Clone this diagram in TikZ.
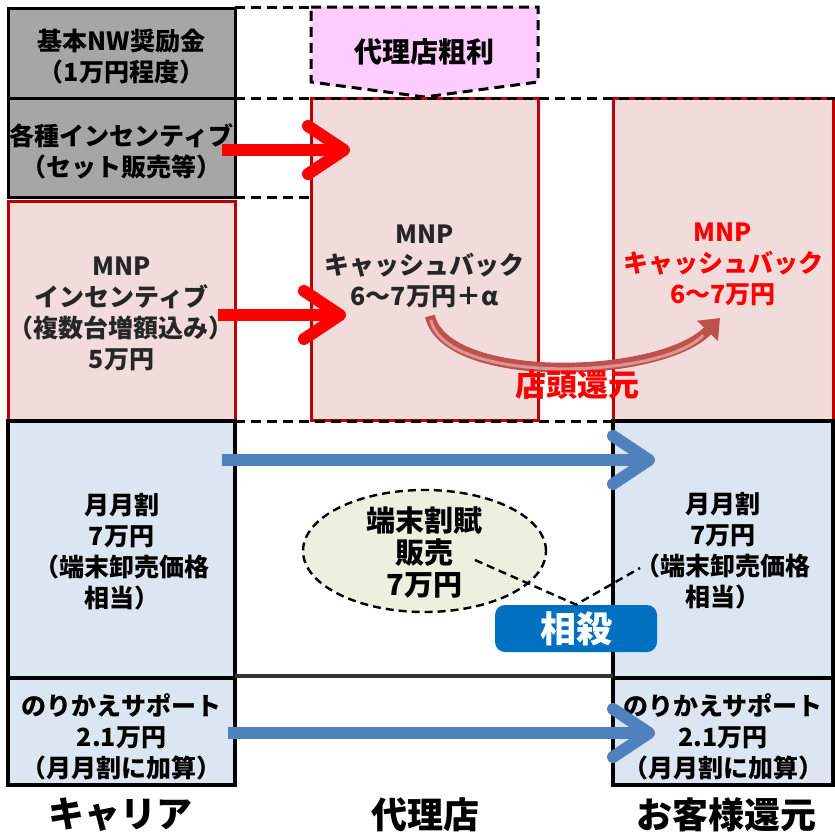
\documentclass[tikz,border=0pt]{standalone}
\usepackage{fontspec}
\setmainfont{Noto Sans CJK JP}
\usetikzlibrary{arrows.meta,shapes.geometric}
\definecolor{grayfill}{HTML}{A6A6A6}
\definecolor{pinkfill}{HTML}{F2DCDB}
\definecolor{boxred}{HTML}{C00000}
\definecolor{bluefill}{HTML}{DCE6F2}
\definecolor{pentfill}{HTML}{FFCCFF}
\definecolor{ellfill}{HTML}{EBF1DE}
\definecolor{arrblue}{HTML}{4F81BD}
\definecolor{arrred}{HTML}{FF0000}
\definecolor{curvred}{HTML}{C0504D}
\definecolor{curvlight}{HTML}{D99694}
\definecolor{sousai}{HTML}{0070C0}
\definecolor{textgray}{HTML}{262626}
\definecolor{darkline}{HTML}{333333}
\begin{document}
\begin{tikzpicture}[x=0.5pt,y=-0.5pt,
  basebox/.style={inner sep=0pt, line width=1.5pt},
  graybox/.style={basebox, draw=black, fill=grayfill},
  pinkbox/.style={basebox, draw=boxred, fill=pinkfill},
  bluebox/.style={basebox, draw=black, fill=bluefill, line width=1.8pt},
  txt/.style={align=center, inner sep=0pt, font=\bfseries\fontsize{12.5}{15.5}\selectfont},
  bigtxt/.style={align=center, inner sep=0pt, font=\bfseries\fontsize{18}{20}\selectfont},
  dline/.style={line width=1.5pt, dash pattern=on 5pt off 3pt},
  chevron/.style={line width=6pt, -{Straight Barb[length=18pt,width=24pt,round]}}
]
\useasboundingbox (0,0) rectangle (835,835);

% left column (carrier)
\node[graybox, minimum width=113.5pt, minimum height=45pt] (g1) at (121.5,53) {};
\node[graybox, minimum width=113.5pt, minimum height=49.5pt] (g2) at (121.5,147.5) {};
\node[pinkbox, minimum width=113.5pt, minimum height=109.5pt] (m1) at (121.5,310.5) {};
\node[bluebox, minimum width=113.5pt, minimum height=128.5pt] (b1) at (121.5,549.5) {};
\node[bluebox, minimum width=113.5pt, minimum height=53.5pt] (n1) at (121.5,731.5) {};

% middle column (agency)
\draw[dline, fill=pentfill] (311,7) -- (538,7) -- (538,82) -- (424.5,97) -- (311,82) -- cycle;
\node[pinkbox, minimum width=113.5pt, minimum height=161pt] (m2) at (424.5,259) {};

% right column (customer)
\node[pinkbox, minimum width=110pt, minimum height=161pt] (m3) at (723,259) {};
\node[bluebox, minimum width=110pt, minimum height=128.5pt] (b2) at (723,549.5) {};
\node[bluebox, minimum width=110pt, minimum height=53.5pt] (n2) at (723,731.5) {};

% dashed guide lines
\draw[dline] (235,7) -- (311,7);
\draw[dline] (235,98) -- (835,98);
\draw[dline] (235,197) -- (311,197);
\draw[dline] (235,421) -- (835,421);
\draw[line width=2pt, darkline] (235,676) -- (613,676);

% texts
\node[txt] (g1t) at (121.5,57) {基本NW奨励金\\（1万円程度）};
\node[txt] (g2t) at (121.5,151.5) {各種インセンティブ\\（セット販売等）};
\node[txt, text=textgray] (m1t) at (121.5,314) {MNP\\インセンティブ\\（複数台増額込み）\\5万円};
\node[txt] (b1t) at (121.5,551.5) {月月割\\7万円\\（端末卸売価格\\相当）};
\node[txt] (n1t) at (121.5,736.5) {のりかえサポート\\2.1万円\\（月月割に加算）};
\node[txt, font=\bfseries\fontsize{14}{16}\selectfont] (pt) at (424.5,52) {代理店粗利};
\node[txt, text=textgray] (m2t) at (424.5,266) {MNP\\キャッシュバック\\6〜7万円＋α};
\node[txt, text=arrred] (m3t) at (723,264.5) {MNP\\キャッシュバック\\6〜7万円};
\node[txt] (b2t) at (723,551) {月月割\\7万円\\（端末卸売価格\\相当）};
\node[txt] (n2t) at (723,736.5) {のりかえサポート\\2.1万円\\（月月割に加算）};

% ellipse
\node[ellipse, draw=black, dash pattern=on 4pt off 2.5pt, line width=1.2pt, fill=ellfill,
      minimum width=121.5pt, minimum height=61pt, inner sep=0pt] (el) at (424.5,551) {};
\node[txt, font=\bfseries\fontsize{14.5}{16}\selectfont] (elt) at (424.5,552.5) {端末割賦\\販売\\7万円};

% sousai
\node[rounded corners=5pt, fill=sousai, text=white, minimum width=81pt, minimum height=23.5pt,
      inner sep=0pt, font=\bfseries\fontsize{18}{20}\selectfont] (ss) at (576,628.5) {相殺};
\coordinate (d1) at (475,560);
\coordinate (d3) at (640,568);
\draw[line width=1.2pt, dash pattern=on 4pt off 2.5pt] (d1) -- (ss.north) -- (d3);

% red arrows
\coordinate (ra1s) at (222,150);
\coordinate (ra1e) at (350,150);
\coordinate (ra2s) at (218,315);
\coordinate (ra2e) at (346,315);
\draw[chevron, arrred] (ra1s) -- (ra1e);
\draw[chevron, arrred] (ra2s) -- (ra2e);

% blue arrows
\coordinate (ba1s) at (222,460);
\coordinate (ba1e) at (655,460);
\coordinate (ba2s) at (228,733);
\coordinate (ba2e) at (655,733);
\draw[chevron, arrblue] (ba1s) -- (ba1e);
\draw[chevron, arrblue] (ba2s) -- (ba2e);

% curved return arrow
\coordinate (cs) at (430,316);
\coordinate (ce) at (720,318);
\draw[line width=5pt, curvred, -{Triangle[length=9pt,width=14pt]}] (cs) .. controls (445,385) and (660,380) .. (ce);
\draw[line width=1.5pt, curvlight, shorten >=12pt, shorten <=2pt] (cs) .. controls (445,385) and (660,380) .. (ce);
\node[txt, text=arrred, font=\bfseries\fontsize{15.5}{18}\selectfont] (tt) at (577,385) {店頭還元};

% bottom labels
\node[bigtxt] (lc) at (120,815) {キャリア};
\node[bigtxt] (la) at (425,815) {代理店};
\node[bigtxt] (lk) at (726,815) {お客様還元};
\end{tikzpicture}
\end{document}
